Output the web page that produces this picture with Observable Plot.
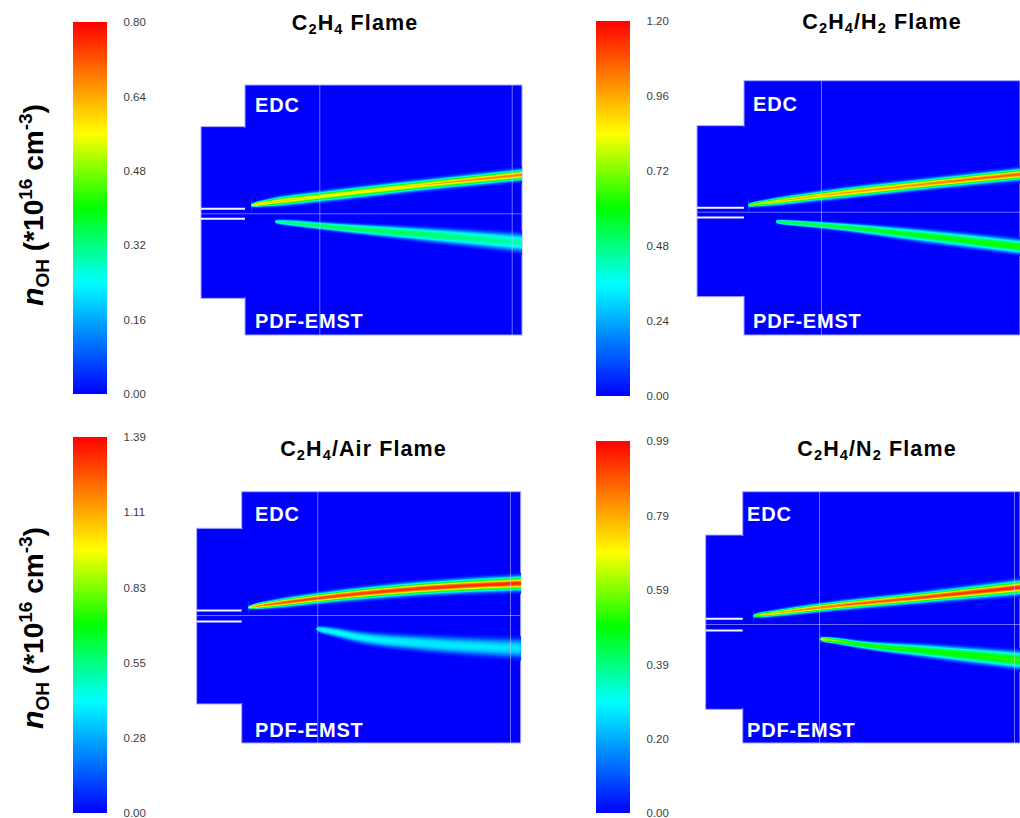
<!DOCTYPE html>
<html>
<head>
<meta charset="utf-8">
<script src="https://cdn.jsdelivr.net/npm/d3@7"></script>
<script src="https://cdn.jsdelivr.net/npm/@observablehq/plot@0.6"></script>
<style>
  html, body { margin: 0; padding: 0; background: #fff; }
  #fig { position: relative; width: 1020px; height: 818px; overflow: hidden;
         font-family: "Liberation Sans", Arial, Helvetica, sans-serif; }
  .txt { position: absolute; white-space: nowrap; line-height: 1; }
  .txt sub { font-size: 0.68em; vertical-align: -0.28em; line-height: 0; }
  .txt sup { font-size: 0.68em; vertical-align: 0.55em; line-height: 0; }
  .title { font-weight: bold; font-size: 21.5px; letter-spacing: 1.1px; color: #000; transform: translateX(-50%); }
  .model { font-weight: bold; font-size: 20px; letter-spacing: 0.8px; color: #fff; }
  .ylab { font-weight: bold; font-size: 28px; color: #000; transform: translate(-50%, -50%) rotate(-90deg); }
  .ylab i { font-size: 1.08em; }
  .ylab .sub2 { font-size: 0.68em; vertical-align: -0.3em; line-height: 0; }
  svg { position: absolute; }
</style>
</head>
<body>
<div id="fig"></div>
<script>
// ================= DATA =================
// Panel titles
const titles = [
  "C<sub>2</sub>H<sub>4</sub> Flame",
  "C<sub>2</sub>H<sub>4</sub>/H<sub>2</sub> Flame",
  "C<sub>2</sub>H<sub>4</sub>/Air Flame",
  "C<sub>2</sub>H<sub>4</sub>/N<sub>2</sub> Flame"
];
const modelLabels = ["EDC", "PDF-EMST"];

// colour-bar maximum of n_OH (*10^16 cm^-3) and its tick labels
const colorMax = [0.80, 1.20, 1.386, 0.986];
const tickLabels = [
  ["0.00", "0.16", "0.32", "0.48", "0.64", "0.80"],
  ["0.00", "0.24", "0.48", "0.72", "0.96", "1.20"],
  ["0.00", "0.28", "0.55", "0.83", "1.11", "1.39"],
  ["0.00", "0.20", "0.39", "0.59", "0.79", "0.99"]
];

// computational domain geometry (x from dump plane, y from axis, same units as the picture)
const stepRect = [
  {x1: -44, x2: 0, y1: -85, y2: 86.6},
  {x1: -47, x2: 0, y1: -85, y2: 86},
  {x1: -45, x2: 0, y1: -89, y2: 86.7},
  {x1: -37, x2: 0, y1: -85.3, y2: 89}
];
const mainRect = [
  {x1: 0, x2: 277, y1: -121.7, y2: 128.3},
  {x1: 0, x2: 276, y1: -123.3, y2: 131},
  {x1: 0, x2: 279, y1: -128, y2: 123.3},
  {x1: 0, x2: 277.3, y1: -119, y2: 132.3}
];
const inletWallY = [[5, -5], [4.4, -5.3], [5, -6], [5.7, -6]];
const gridLineX = [[74.3, 266.7], [77], [75.6, 268.3], [76.3, 271.3]];

// flame centre-lines: x, y, peak n_OH (v), visible half-width (w)
const edcFlame1 = [
  {x: 6, y: 8, v: 0.10, w: 0.8}, {x: 8, y: 8.3, v: 0.60, w: 1.8}, {x: 22, y: 10.4, v: 0.62, w: 3.6},
  {x: 74, y: 16.6, v: 0.58, w: 5}, {x: 178, y: 28.3, v: 0.61, w: 5.3}, {x: 277, y: 38.5, v: 0.69, w: 5.8}
];
const pdfFlame1 = [
  {x: 30, y: -8.2, v: 0.05, w: 0.8}, {x: 31.7, y: -8.4, v: 0.28, w: 1.6}, {x: 46, y: -9.6, v: 0.34, w: 2.6},
  {x: 74.3, y: -12.4, v: 0.36, w: 3.3}, {x: 178, y: -21, v: 0.35, w: 6}, {x: 230, y: -25.3, v: 0.32, w: 7},
  {x: 277, y: -29.5, v: 0.30, w: 7.8}
];
const edcFlame2 = [
  {x: 4, y: 6.5, v: 0.15, w: 0.8}, {x: 6, y: 6.7, v: 0.72, w: 1.8}, {x: 20, y: 8.6, v: 0.82, w: 3},
  {x: 77, y: 16, v: 0.95, w: 4.7}, {x: 179, y: 27.4, v: 1.02, w: 5.3}, {x: 276, y: 37.4, v: 1.08, w: 6}
];
const pdfFlame2 = [
  {x: 32, y: -9.8, v: 0.08, w: 0.8}, {x: 34, y: -10, v: 0.52, w: 1.8}, {x: 50, y: -11.3, v: 0.56, w: 2.5},
  {x: 77, y: -13.3, v: 0.57, w: 3}, {x: 179, y: -24, v: 0.59, w: 5.8}, {x: 276, y: -35, v: 0.63, w: 6.8}
];
const edcFlame3 = [
  {x: 6.3, y: 7.4, v: 0.15, w: 0.8}, {x: 8.3, y: 7.7, v: 1.00, w: 1.8}, {x: 31.6, y: 11, v: 1.25, w: 4},
  {x: 75.6, y: 16.7, v: 1.30, w: 5.3}, {x: 181.6, y: 26.7, v: 1.32, w: 6.7}, {x: 279, y: 31.7, v: 1.34, w: 7.6}
];
const pdfFlame3 = [
  {x: 74.6, y: -13.8, v: 0.08, w: 1}, {x: 76.6, y: -14, v: 0.42, w: 2.2}, {x: 90, y: -16.5, v: 0.44, w: 3.5},
  {x: 115, y: -21.7, v: 0.42, w: 4.5}, {x: 181.6, y: -28.3, v: 0.40, w: 6}, {x: 279, y: -33.3, v: 0.38, w: 7.2}
];
const edcFlame4 = [
  {x: 10.3, y: 8, v: 0.10, w: 0.8}, {x: 12.3, y: 8.3, v: 0.58, w: 1.8}, {x: 30, y: 10.5, v: 0.72, w: 3},
  {x: 76.3, y: 16.3, v: 0.85, w: 4.2}, {x: 180.6, y: 26.7, v: 0.92, w: 5.6}, {x: 277.3, y: 36.7, v: 0.95, w: 7.5}
];
const pdfFlame4 = [
  {x: 77.6, y: -15.1, v: 0.10, w: 1}, {x: 79.6, y: -15.3, v: 0.66, w: 2.2}, {x: 95, y: -17, v: 0.57, w: 3},
  {x: 114, y: -20, v: 0.52, w: 3.4}, {x: 180.6, y: -26.7, v: 0.51, w: 5.8}, {x: 277.3, y: -36, v: 0.53, w: 8.3}
];
const edcFlame = [edcFlame1, edcFlame2, edcFlame3, edcFlame4];
const pdfFlame = [pdfFlame1, pdfFlame2, pdfFlame3, pdfFlame4];

// ================= LAYOUT & STYLE =================
const panelBox = [
  {left: 195, top: 78, width: 330, height: 262, ox: 245, oy: 213.3},
  {left: 690, top: 74, width: 330, height: 266, ox: 744, oy: 211.7},
  {left: 190, top: 485, width: 335, height: 263, ox: 241.7, oy: 615},
  {left: 700, top: 485, width: 320, height: 263, ox: 742.7, oy: 624}
];
const barBox = [
  {left: 73, top: 21.5, bottom: 393.3},
  {left: 595.5, top: 21, bottom: 396},
  {left: 73.3, top: 437.3, bottom: 813.3},
  {left: 595.7, top: 440.7, bottom: 813}
];
const barWidth = 34;
const titleSize = 21.5;
const titlePos = [{cx: 355, base: 31}, {cx: 882, base: 30}, {cx: 363.5, base: 457}, {cx: 877, base: 457}];
const modelPos = [
  {x: 255, edc: 112, pdf: 328}, {x: 753, edc: 111, pdf: 327.7},
  {x: 255, edc: 521, pdf: 737}, {x: 747, edc: 521, pdf: 737.3}
];
const yLabelPos = [{cx: 33, cy: 205}, {cx: 33, cy: 628}];

const jetStops = [0, 0.3, 0.5, 0.7, 1];
const jetColors = ["#0000ff", "#00ffff", "#00ff00", "#ffff00", "#ff0000"];
const jetScale = d3.scaleLinear().domain(jetStops).range(jetColors).interpolate(d3.interpolateRgb).clamp(true);
const jet = (t) => jetScale(t);

const fig = document.getElementById("fig");

function place(el, left, top) {
  el.style.position = "absolute";
  el.style.left = left + "px";
  el.style.top = top + "px";
  fig.appendChild(el);
}

// cross-section bands of a flame (rendering of the read centre-line values)
// p = profile exponent (2 = Gaussian, larger = flatter top)
function flameBands(pts, max, p = 2, K = 48) {
  const out = [];
  const floor = 0.15 * max;
  for (let k = 1; k < K; k++) {
    const t = max * k / K;
    for (const q of pts) {
      const s = q.w / Math.pow(2 * Math.log(Math.max(q.v, floor * 1.01) / floor), 1 / p);
      const d = q.v > t ? s * Math.pow(2 * Math.log(q.v / t), 1 / p) : 0;
      out.push({k, x: q.x, y1: q.y - d, y2: q.y + d, t});
    }
  }
  return out;
}

function panelPlot(i) {
  const b = panelBox[i], max = colorMax[i];
  const st = stepRect[i], mn = mainRect[i];
  const lineCol = "#c4c4ff";
  return Plot.plot({
    width: b.width, height: b.height, margin: 0,
    x: {domain: [b.left - b.ox, b.left + b.width - b.ox], axis: null},
    y: {domain: [b.oy - b.top - b.height, b.oy - b.top], axis: null},
    color: {type: "linear", domain: [0, max], interpolate: jet},
    style: {background: "transparent", overflow: "visible"},
    marks: [
      Plot.rect([st, mn], {x1: "x1", x2: "x2", y1: "y1", y2: "y2", fill: () => 0, stroke: "#a8a8ff", strokeWidth: 1}),
      Plot.rect([st], {x1: "x1", x2: "x2", y1: "y1", y2: "y2", fill: () => 0, insetLeft: 1, insetTop: 1, insetBottom: 1, insetRight: -2}),
      Plot.areaY(flameBands(edcFlame[i], max, 2), {x: "x", y1: "y1", y2: "y2", z: "k", fill: "t", curve: "monotone-x"}),
      Plot.areaY(flameBands(pdfFlame[i], max, 2.6), {x: "x", y1: "y1", y2: "y2", z: "k", fill: "t", curve: "monotone-x"}),
      Plot.ruleX(gridLineX[i], {y1: mn.y1, y2: mn.y2, stroke: lineCol, strokeOpacity: 0.55, strokeWidth: 1}),
      Plot.ruleY([0], {x1: st.x1, x2: mn.x2, stroke: lineCol, strokeOpacity: 0.55, strokeWidth: 1}),
      Plot.ruleY(inletWallY[i], {x1: st.x1, x2: 0, stroke: "#f4f4ff", strokeWidth: 2})
    ]
  });
}

function colorBar(i) {
  const b = barBox[i], max = colorMax[i];
  const n = 160;
  const cells = d3.range(n).map(j => ({y1: max * j / n, y2: max * (j + 1) / n, v: max * (j + 0.5) / n}));
  const ticks = tickLabels[i].map((_, j) => max * j / 5);
  return Plot.plot({
    width: barWidth + 60, height: b.bottom - b.top + 16,
    marginTop: 8, marginBottom: 8, marginLeft: 0, marginRight: 60,
    x: {domain: [0, 1], axis: null},
    y: {domain: [0, max], axis: null},
    color: {type: "linear", domain: [0, max], interpolate: jet},
    style: {background: "transparent", fontFamily: "'Liberation Sans', Arial, sans-serif", overflow: "visible"},
    marks: [
      Plot.rect(cells, {x1: 0, x2: 1, y1: "y1", y2: "y2", fill: "v", shapeRendering: "crispEdges"}),
      Plot.axisY(ticks, {anchor: "right", tickSize: 0, tickPadding: 16, fontSize: 11.5, color: "#3c3c3c",
        tickFormat: d => tickLabels[i][ticks.indexOf(d)]})
    ]
  });
}

function text(cls, html, left, top) {
  const d = document.createElement("div");
  d.className = "txt " + cls;
  d.innerHTML = html;
  place(d, left, top);
  return d;
}

for (let i = 0; i < 4; i++) {
  const b = panelBox[i];
  place(panelPlot(i), b.left, b.top);
  const c = barBox[i];
  place(colorBar(i), c.left, c.top - 8);
  text("title", titles[i], titlePos[i].cx, titlePos[i].base - 0.8465 * titleSize);
  text("model", modelLabels[0], modelPos[i].x, modelPos[i].edc - 0.8465 * 20);
  text("model", modelLabels[1], modelPos[i].x, modelPos[i].pdf - 0.8465 * 20);
}
for (const p of yLabelPos) {
  text("ylab", '<i>n</i><span class="sub2">OH</span> (*10<sup>16</sup> cm<sup>-3</sup>)', p.cx, p.cy);
}
</script>
</body>
</html>
